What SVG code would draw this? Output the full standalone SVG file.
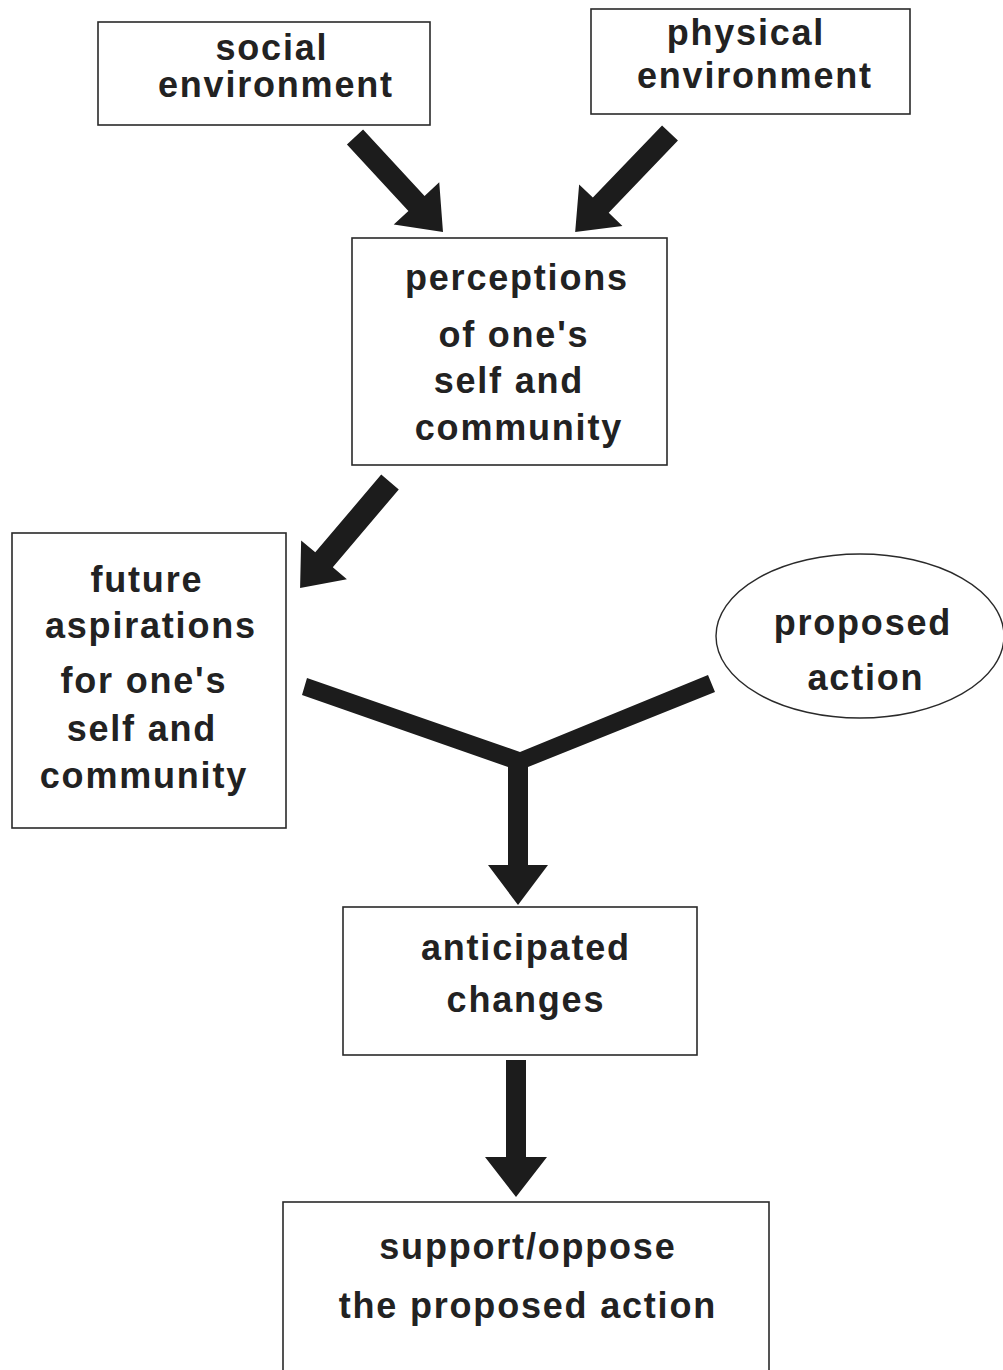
<svg xmlns="http://www.w3.org/2000/svg" width="1003" height="1370" viewBox="0 0 1003 1370">
  <style>
    .box { fill: #ffffff; stroke: #2a2a2a; stroke-width: 1.6; }
    .oval { fill: #ffffff; stroke: #2a2a2a; stroke-width: 1.4; }
    .lbl { font-family: "Liberation Sans", Arial, sans-serif; font-size: 36px; font-weight: bold; letter-spacing: 1.8px; fill: #222222; text-anchor: middle; }
    .arrow { fill: #1c1c1c; stroke: none; }
  </style>
  <rect x="0" y="0" width="1003" height="1370" fill="#ffffff"/>

  <g id="connectors">
    <polygon class="arrow" transform="translate(355,137) rotate(47.2)" points="0,-11 90.5,-11 90.5,-31 129.5,0 90.5,31 90.5,11 0,11"/>
    <polygon class="arrow" transform="translate(670,133) rotate(133.8)" points="0,-11 100,-11 100,-30 137,0 100,30 100,11 0,11"/>
    <polygon class="arrow" transform="translate(390,482) rotate(130.3)" points="0,-11.5 102,-11.5 102,-30 139,0 102,30 102,11.5 0,11.5"/>
    <polygon class="arrow" points="307,678 520,752 708,675 715,692 528,767 528,865 548,865 518,905 488,865 508,865 508,767 302,695"/>
    <polygon class="arrow" points="506,1060 526,1060 526,1157 547,1157 516,1197 485,1157 506,1157"/>
  </g>

  <g id="social-environment">
    <rect class="box" x="98" y="22" width="332" height="103"/>
    <text class="lbl" x="271.9" y="60">social</text>
    <text class="lbl" x="275.9" y="97">environment</text>
  </g>

  <g id="physical-environment">
    <rect class="box" x="591" y="9" width="319" height="105"/>
    <text class="lbl" x="745.9" y="45">physical</text>
    <text class="lbl" x="754.9" y="88">environment</text>
  </g>

  <g id="perceptions">
    <rect class="box" x="352" y="238" width="315" height="227"/>
    <text class="lbl" x="516.9" y="290">perceptions</text>
    <text class="lbl" x="513.9" y="347">of one's</text>
    <text class="lbl" x="508.9" y="393">self and</text>
    <text class="lbl" x="518.9" y="440">community</text>
  </g>

  <g id="future-aspirations">
    <rect class="box" x="12" y="533" width="274" height="295"/>
    <text class="lbl" x="146.9" y="592">future</text>
    <text class="lbl" x="150.9" y="638">aspirations</text>
    <text class="lbl" x="143.9" y="693">for one's</text>
    <text class="lbl" x="141.9" y="741">self and</text>
    <text class="lbl" x="143.9" y="788">community</text>
  </g>

  <g id="proposed-action">
    <ellipse class="oval" cx="860" cy="636" rx="144" ry="82"/>
    <text class="lbl" x="862.9" y="635">proposed</text>
    <text class="lbl" x="865.9" y="690">action</text>
  </g>

  <g id="anticipated-changes">
    <rect class="box" x="343" y="907" width="354" height="148"/>
    <text class="lbl" x="525.9" y="960">anticipated</text>
    <text class="lbl" x="525.9" y="1012">changes</text>
  </g>

  <g id="support-oppose">
    <rect class="box" x="283" y="1202" width="486" height="180"/>
    <text class="lbl" x="527.9" y="1259">support/oppose</text>
    <text class="lbl" x="527.9" y="1318">the proposed action</text>
  </g>
</svg>
